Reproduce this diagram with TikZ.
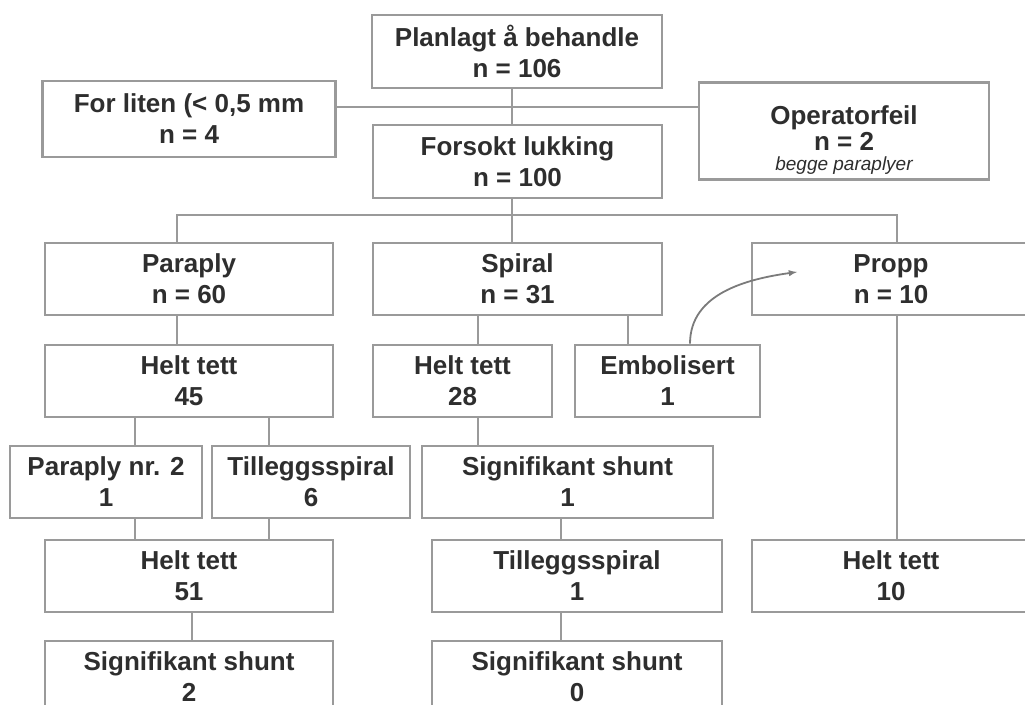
\documentclass[tikz,border=0pt]{standalone}
\usepackage{fontspec}
\setmainfont{Liberation Sans}
\usetikzlibrary{arrows}
\definecolor{rammegra}{HTML}{9A9A9A}
\definecolor{tekstgra}{HTML}{2E2E2E}
\tikzset{
	boks/.style={draw=rammegra, line width=2.6pt, fill=white, align=center, text=tekstgra,
		inner sep=1pt, font=\fontsize{26}{31}\selectfont\bfseries},
	linje/.style={draw=rammegra, line width=2.6pt},
	pil/.style={draw=rammegra!80!black, line width=1.8pt, -latex}
}

\begin{document}
\begin{tikzpicture}[x=1pt, y=-1pt]
	\clip (0,0) rectangle (1025,704);
	% boksene
	\node[boks, minimum width=290, minimum height=73] (plan) at (517,51.5) {Planlagt å behandle\\ n = 106};
	\node[boks, minimum width=293, minimum height=76] (liten) at (189,119) {For liten (< 0,5 mm\\ n = 4};
	\node[boks, minimum width=290, minimum height=97] (oper) at (844,131)
		{\rule{0pt}{36pt}Operatorfeil\\[-5pt] n = 2\\[-11pt] {\fontsize{19}{22}\selectfont\mdseries\itshape begge paraplyer}};
	\node[boks, minimum width=289, minimum height=73] (forsok) at (517.5,161.5) {Forsokt lukking\\ n = 100};
	\node[boks, minimum width=288, minimum height=72] (para) at (189,279) {Paraply\\ n = 60};
	\node[boks, minimum width=289, minimum height=72] (spir) at (517.5,279) {Spiral\\ n = 31};
	\node[boks, minimum width=278, minimum height=72] (propp) at (891,279) {Propp\\ n = 10};
	\node[boks, minimum width=288, minimum height=72] (helt45) at (189,381) {Helt tett\\ 45};
	\node[boks, minimum width=179, minimum height=72] (helt28) at (462.5,381) {Helt tett\\ 28};
	\node[boks, minimum width=185, minimum height=72] (emb) at (667.5,381) {Embolisert\\ 1};
	\node[boks, minimum width=192, minimum height=72] (para2) at (106,482) {Paraply nr. 2\\ 1};
	\node[boks, minimum width=198, minimum height=72] (till6) at (311,482) {Tilleggsspiral\\ 6};
	\node[boks, minimum width=291, minimum height=72] (sig1) at (567.5,482) {Signifikant shunt\\ 1};
	\node[boks, minimum width=288, minimum height=72] (helt51) at (189,576) {Helt tett\\ 51};
	\node[boks, minimum width=290, minimum height=72] (till1) at (577,576) {Tilleggsspiral\\ 1};
	\node[boks, minimum width=278, minimum height=72] (helt10) at (891,576) {Helt tett\\ 10};
	\node[boks, minimum width=288, minimum height=72] (sig2) at (189,677) {Signifikant shunt\\ 2};
	\node[boks, minimum width=290, minimum height=72] (sig0) at (577,677) {Signifikant shunt\\ 0};

	% greinpunkt
	\coordinate (tvers) at (512,107);
	\coordinate (gren) at (512,215);
	\coordinate (grenV) at (177,215);
	\coordinate (grenH) at (897,215);
	\coordinate (sp28) at (478,0);
	\coordinate (spemb) at (628,0);
	\coordinate (hv) at (135,0);
	\coordinate (hh) at (269,0);
	\coordinate (h51) at (192,0);
	\coordinate (sg) at (561,0);
	\coordinate (embx) at (690,0);
	\coordinate (pilspiss) at (797,272);

	\path[linje]
		(plan.south -| gren) edge (forsok.north -| gren)
		(liten.east |- tvers) edge (oper.west |- tvers)
		(forsok.south -| gren) edge (spir.north -| gren)
		(para.south -| grenV) edge (helt45.north -| grenV)
		(spir.south -| sp28) edge (helt28.north -| sp28)
		(spir.south -| spemb) edge (emb.north -| spemb)
		(helt45.south -| hv) edge (para2.north -| hv)
		(helt45.south -| hh) edge (till6.north -| hh)
		(para2.south -| hv) edge (helt51.north -| hv)
		(till6.south -| hh) edge (helt51.north -| hh)
		(helt28.south -| sp28) edge (sig1.north -| sp28)
		(sig1.south -| sg) edge (till1.north -| sg)
		(till1.south -| sg) edge (sig0.north -| sg)
		(helt51.south -| h51) edge (sig2.north -| h51)
		(propp.south -| grenH) edge (helt10.north -| grenH);
	\draw[linje] (para.north -| grenV) |- (grenH) -- (propp.north -| grenH);

	\draw[pil] (emb.north -| embx) to[out=90, in=188] (pilspiss);
\end{tikzpicture}
\end{document}
